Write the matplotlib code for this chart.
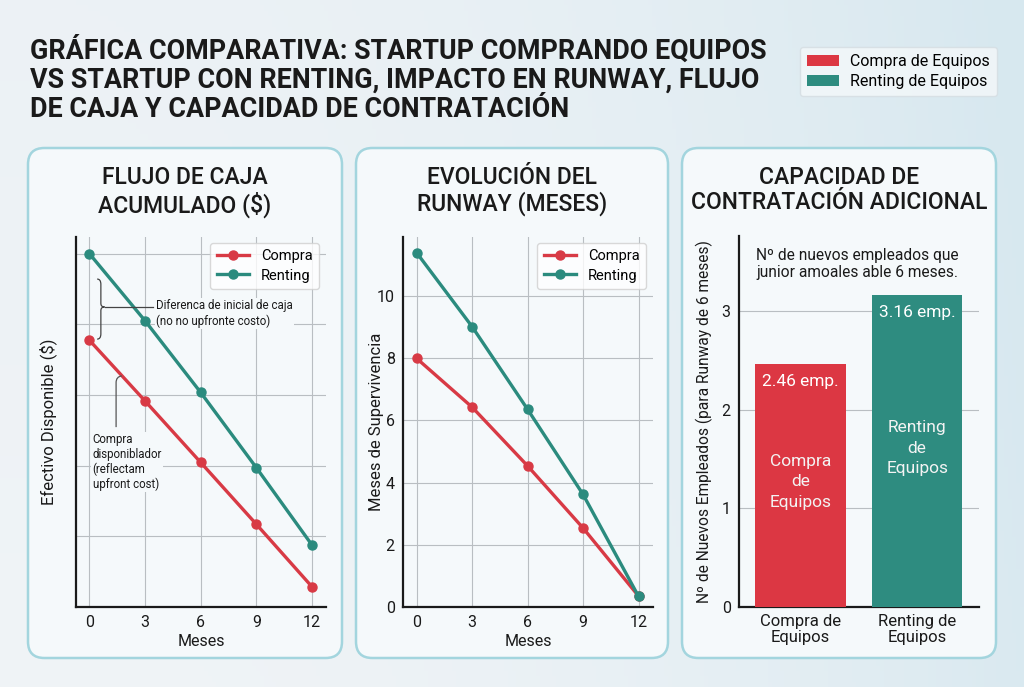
import numpy as np
import matplotlib
matplotlib.use("Agg")
import matplotlib.pyplot as plt
from matplotlib.patches import FancyBboxPatch, Patch
from matplotlib.path import Path
from matplotlib.patches import PathPatch

plt.rcParams['font.family'] = ['Roboto', 'DejaVu Sans']

# ---------------- data ----------------
meses = [0, 3, 6, 9, 12]
flujo_compra = [75.5, 58.3, 40.9, 23.4, 5.7]
flujo_renting = [100.0, 81.0, 60.7, 39.4, 17.5]
runway_compra = [8.0, 6.43, 4.54, 2.54, 0.35]
runway_renting = [11.4, 9.02, 6.36, 3.62, 0.34]
contratacion_cats = ["Compra de\nEquipos", "Renting de\nEquipos"]
contratacion_vals = [2.46, 3.16]
contratacion_labels = ["2.46 emp.", "3.16 emp."]
contratacion_inner = ["Compra\nde\nEquipos", "Renting\nde\nEquipos"]

RED = "#d83a45"
TEAL = "#2b8b7e"
RED_BAR = "#dc3743"
TEAL_BAR = "#2e8c80"
TXT = "#1a1a1a"
GRID = "#b9bec2"

W, H = 1024, 687
fig = plt.figure(figsize=(W / 100, H / 100), dpi=100)

# background gradient
bg = fig.add_axes([0, 0, 1, 1], zorder=-10)
gx = np.linspace(0, 1, 256)
gy = np.linspace(0, 1, 128)
GX, GY = np.meshgrid(gx, gy)
c0 = np.array([0.940, 0.955, 0.966])
c1 = np.array([0.845, 0.910, 0.940])
t = np.clip(GX ** 2.2 * 0.9 + GY * 0.15, 0, 1)[..., None]
img = c0 * (1 - t) + c1 * t
bg.imshow(img, aspect='auto', extent=[0, 1, 0, 1], origin='lower')
bg.set_xlim(0, 1); bg.set_ylim(0, 1)
bg.axis('off')


def px(x0, y0, x1, y1):
    return [x0 / W, 1 - y1 / H, (x1 - x0) / W, (y1 - y0) / H]


# panels
for (x0, x1) in [(28, 342), (356, 668), (682, 996)]:
    r = px(x0, 148, x1, 658)
    p = FancyBboxPatch((r[0], r[1]), r[2], r[3],
                       boxstyle="round,pad=0,rounding_size=0.016",
                       transform=fig.transFigure, facecolor="#f5f9fb",
                       edgecolor="#a3d5de", linewidth=1.8, zorder=-5,
                       mutation_aspect=W / H)
    fig.patches.append(p)

# main title
fig.text(30 / W, 1 - 36 / H,
         "GRÁFICA COMPARATIVA: STARTUP COMPRANDO EQUIPOS\n"
         "VS STARTUP CON RENTING, IMPACTO EN RUNWAY, FLUJO\n"
         "DE CAJA Y CAPACIDAD DE CONTRATACIÓN",
         fontsize=19.4, fontweight='bold', color=TXT, va='top', ha='left',
         linespacing=1.11)

# figure legend
fig.legend(handles=[Patch(facecolor=RED_BAR, label="Compra de Equipos"),
                    Patch(facecolor=TEAL_BAR, label="Renting de Equipos")],
           loc='upper right', bbox_to_anchor=(997 / W, 1 - 47 / H), borderaxespad=0,
           fontsize=11.5, frameon=True, facecolor="#f4f8fa", edgecolor="#d5dde2",
           handlelength=2.0, handleheight=0.75, handletextpad=0.7,
           borderpad=0.45, labelspacing=0.3, fancybox=True)

# panel titles
def ptitle(xc, text):
    fig.text(xc / W, 1 - 166 / H, text, fontsize=16.5, fontweight='medium',
             color=TXT, ha='center', va='top', linespacing=1.13)

ptitle(185, "FLUJO DE CAJA\nACUMULADO ($)")
ptitle(512, "EVOLUCIÓN DEL\nRUNWAY (MESES)")
ptitle(839, "CAPACIDAD DE\nCONTRATACIÓN ADICIONAL")


def style_ax(ax):
    ax.set_facecolor('none')
    for s in ['top', 'right']:
        ax.spines[s].set_visible(False)
    for s in ['left', 'bottom']:
        ax.spines[s].set_linewidth(1.6)
        ax.spines[s].set_color(TXT)
    ax.tick_params(length=0, labelsize=11.5, colors=TXT, pad=6)


# ---------------- chart 1 ----------------
ax1 = fig.add_axes(px(76, 237, 326, 607))
style_ax(ax1)
ax1.plot(meses, flujo_compra, color=RED, lw=2.4, marker='o', ms=6.5, label="Compra", zorder=3)
ax1.plot(meses, flujo_renting, color=TEAL, lw=2.4, marker='o', ms=6.5, label="Renting", zorder=3)
ax1.set_xlim(-0.72, 12.75)
ax1.set_ylim(0, 104.7)
ax1.set_xticks(meses)
ax1.set_yticks([20, 40, 60, 80, 100])
ax1.set_yticklabels([])
ax1.grid(True, color=GRID, lw=0.8)
ax1.set_axisbelow(True)
ax1.set_xlabel("Meses", fontsize=11.5, color=TXT, labelpad=3)
ax1.set_ylabel("Efectivo Disponible ($)", fontsize=12, color=TXT, labelpad=8)
ax1.legend(loc='upper right', fontsize=10.5, frameon=True, facecolor='white',
           edgecolor='#d0d0d0', handlelength=2.2, borderpad=0.45, labelspacing=0.35,
           bbox_to_anchor=(0.972, 0.984), borderaxespad=0)

# brace annotation
bx0, btip, by0, by1, bym = 0.42, 0.82, 75.8, 92.8, 84.9
bxm = (bx0 + btip) / 2
verts = [(bx0, by1), (bxm, by1), (bxm, by1 - 1.5), (bxm, by1 - 2.5),
         (bxm, bym + 1.0), (bxm, bym), (btip, bym),
         (bxm, bym), (bxm, bym - 1.0),
         (bxm, by0 + 2.5), (bxm, by0 + 1.5), (bxm, by0), (bx0, by0)]
codes = [Path.MOVETO, Path.CURVE3, Path.CURVE3, Path.LINETO,
         Path.LINETO, Path.CURVE3, Path.CURVE3,
         Path.CURVE3, Path.CURVE3,
         Path.LINETO, Path.LINETO, Path.CURVE3, Path.CURVE3]
ax1.add_patch(PathPatch(Path(verts, codes), fill=False, edgecolor='#444444', lw=0.9, zorder=4))
ax1.plot([btip, 3.45], [bym, bym], color='#444444', lw=0.9, zorder=4)
ax1.text(3.6, 83.0, "Diferenca de inicial de caja\n(no no upfronte costo)",
         fontsize=8.3, color=TXT, va='center', ha='left', linespacing=1.2,
         bbox=dict(facecolor='#f5f9fb', edgecolor='none', pad=1), zorder=4)

# vertical annotation line
hook = Path([(1.44, 50.9), (1.44, 63.5), (1.44, 65.2), (1.75, 65.4)],
            [Path.MOVETO, Path.LINETO, Path.CURVE3, Path.CURVE3])
ax1.add_patch(PathPatch(hook, fill=False, edgecolor='#555555', lw=0.9, zorder=4))
ax1.text(0.18, 49.2, "Compra\ndisponiblador\n(reflectam\nupfront cost)",
         fontsize=8.3, color=TXT, va='top', ha='left', linespacing=1.15,
         bbox=dict(facecolor='#f5f9fb', edgecolor='none', pad=1), zorder=4)

# ---------------- chart 2 ----------------
ax2 = fig.add_axes(px(403, 237, 653, 607))
style_ax(ax2)
ax2.plot(meses, runway_compra, color=RED, lw=2.4, marker='o', ms=6.5, label="Compra", zorder=3)
ax2.plot(meses, runway_renting, color=TEAL, lw=2.4, marker='o', ms=6.5, label="Renting", zorder=3)
ax2.set_xlim(-0.73, 12.78)
ax2.set_ylim(0, 11.9)
ax2.set_xticks(meses)
ax2.set_yticks([0, 2, 4, 6, 8, 10])
ax2.grid(True, color=GRID, lw=0.8)
ax2.set_axisbelow(True)
ax2.set_xlabel("Meses", fontsize=11.5, color=TXT, labelpad=3)
ax2.set_ylabel("Meses de Supervivencia", fontsize=12, color=TXT, labelpad=-5)
ax2.legend(loc='upper right', fontsize=10.5, frameon=True, facecolor='white',
           edgecolor='#d0d0d0', handlelength=2.2, borderpad=0.45, labelspacing=0.35,
           bbox_to_anchor=(0.972, 0.984), borderaxespad=0)

# ---------------- chart 3 ----------------
ax3 = fig.add_axes(px(739, 236, 979, 607))
style_ax(ax3)
xpos = np.arange(len(contratacion_vals))
ax3.bar(xpos, contratacion_vals, width=0.776, color=[RED_BAR, TEAL_BAR], zorder=3)
ax3.set_xlim(-0.527, 1.53)
ax3.set_ylim(0, 3.76)
ax3.set_xticks(xpos)
ax3.set_xticklabels(contratacion_cats, fontsize=12, linespacing=1.05)
ax3.set_yticks([0, 1, 2, 3])
ax3.grid(True, axis='y', color=GRID, lw=0.8)
ax3.set_axisbelow(True)
ax3.tick_params(axis='x', pad=5)
ax3.set_ylabel("Nº de Nuevos Empleados (para Runway de 6 meses)", fontsize=11.2,
               color=TXT, labelpad=6)
for i, v in enumerate(contratacion_vals):
    ax3.text(i, v - 0.175, contratacion_labels[i], color='white', fontsize=12.5,
             ha='center', va='center', zorder=4)
inner_y = [1.27, 1.61]
for i in xpos:
    ax3.text(i, inner_y[i], contratacion_inner[i], color='#f3f3f3', fontsize=12.5,
             ha='center', va='center', linespacing=1.45, zorder=4)
ax3.text(-0.378, 3.48, "Nº de nuevos empleados que\njunior amoales able 6 meses.",
         fontsize=11.2, color=TXT, ha='left', va='center', linespacing=1.15)

fig.savefig("out.png", dpi=100)
